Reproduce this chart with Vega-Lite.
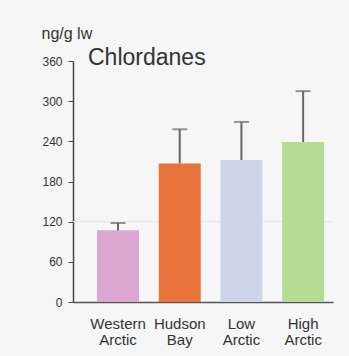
{
  "$schema": "https://vega.github.io/schema/vega-lite/v6.json",
  "autosize": "none",
  "width": 260,
  "height": 241,
  "padding": {"left": 73, "top": 61, "right": 16, "bottom": 54},
  "background": "#f6f6f6",
  "config": {
    "view": {"stroke": null},
    "font": "Liberation Sans"
  },
  "title": {
    "text": "Chlordanes",
    "anchor": "start",
    "frame": "group",
    "orient": "top",
    "baseline": "middle",
    "offset": 0,
    "dx": 15,
    "dy": 56,
    "fontSize": 23,
    "fontWeight": "normal",
    "color": "#333333"
  },
  "data": {
    "values": [
      {"region": "Western Arctic", "value": 107, "upper": 118},
      {"region": "Hudson Bay", "value": 207, "upper": 258},
      {"region": "Low Arctic", "value": 212, "upper": 269},
      {"region": "High Arctic", "value": 239, "upper": 315}
    ]
  },
  "encoding": {
    "x": {
      "field": "region",
      "type": "nominal",
      "sort": null,
      "scale": {"paddingInner": 0.32, "paddingOuter": 0.267, "align": 0.73},
      "axis": {
        "title": null,
        "labelAngle": 0,
        "labelExpr": "split(datum.label, ' ')",
        "labelFontSize": 15,
        "labelColor": "#333333",
        "labelLineHeight": 16,
        "labelPadding": 14,
        "labelOverlap": false,
        "ticks": false,
        "domainColor": "#555555",
        "domainWidth": 1.5
      }
    }
  },
  "layer": [
    {
      "data": {"values": [{"g": 120}]},
      "mark": {"type": "rule", "color": "#e4e4e4", "strokeWidth": 1},
      "encoding": {"y": {"field": "g", "type": "quantitative", "scale": {"domain": [0, 360]}}, "x": {"value": 0}, "x2": {"value": 260}}
    },
    {
      "mark": {"type": "bar"},
      "encoding": {
        "y": {
          "field": "value",
          "type": "quantitative",
          "scale": {"domain": [0, 360], "nice": false},
          "axis": {
            "values": [0, 60, 120, 180, 240, 300, 360],
            "title": "ng/g lw",
            "titleAngle": 0,
            "titleX": -32,
            "titleY": -28,
            "titleAlign": "left",
            "titleBaseline": "middle",
            "titleFontSize": 16,
            "titleFontWeight": "normal",
            "titleColor": "#333333",
            "labelFontSize": 12,
            "labelColor": "#333333",
            "labelPadding": 6,
            "tickSize": 5,
            "tickColor": "#444444",
            "domainColor": "#444444",
            "domainWidth": 1.5,
            "grid": false
          }
        },
        "color": {
          "field": "region",
          "type": "nominal",
          "sort": null,
          "scale": {
            "domain": ["Western Arctic", "Hudson Bay", "Low Arctic", "High Arctic"],
            "range": ["#dba6cf", "#e8743b", "#cdd5ea", "#b5dc94"]
          },
          "legend": null
        }
      }
    },
    {
      "mark": {"type": "rule", "color": "#666666", "strokeWidth": 2},
      "encoding": {
        "y": {"field": "value", "type": "quantitative"},
        "y2": {"field": "upper"}
      }
    },
    {
      "mark": {"type": "tick", "color": "#666666", "thickness": 2, "size": 15},
      "encoding": {
        "y": {"field": "upper", "type": "quantitative"}
      }
    }
  ]
}
